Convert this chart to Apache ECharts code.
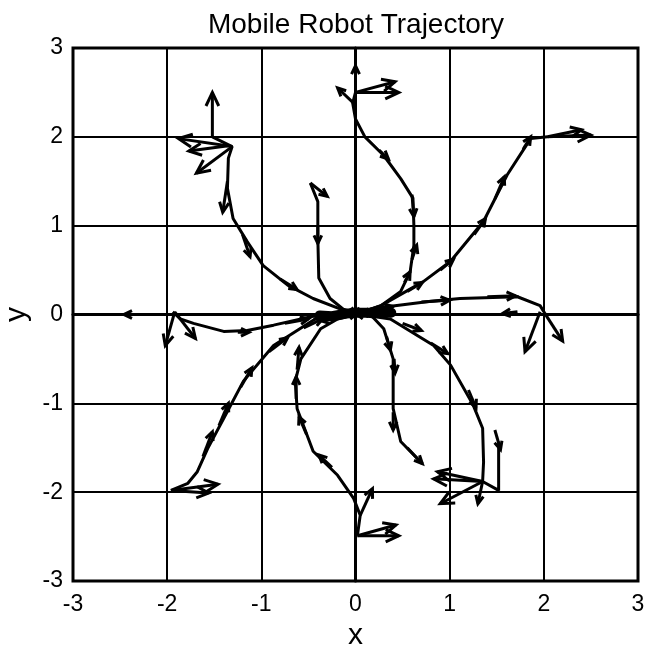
<!DOCTYPE html>
<html>
<head>
<meta charset="utf-8">
<script src="https://cdn.jsdelivr.net/npm/echarts@6/dist/echarts.min.js"></script>
<style>
  html, body { margin: 0; padding: 0; background: #fff; }
  #chart { width: 648px; height: 647px; }
</style>
</head>
<body>
<div id="chart"></div>
<script>
// axis ticks
const xTicks = [-3, -2, -1, 0, 1, 2, 3]
const yTicks = [-3, -2, -1, 0, 1, 2, 3]

// trajectories (x, y), one per start pose
const trajTop = [[0.0, 2.5], [-0.03, 2.38], [0.0, 2.2], [0.1, 2.0], [0.3, 1.79], [0.48, 1.53], [0.61, 1.31], [0.62, 1.0], [0.62, 0.78], [0.58, 0.48], [0.48, 0.26], [0.27, 0.1], [0.05, 0.02]]
const trajUpperLeft = [[-1.52, 2.0], [-1.31, 1.89], [-1.35, 1.76], [-1.36, 1.42], [-1.3, 1.08], [-1.15, 0.82], [-0.98, 0.55], [-0.72, 0.33], [-0.45, 0.18], [-0.13, 0.05], [0, 0.02]]
const trajInnerLeft = [[-0.48, 1.48], [-0.4, 1.27], [-0.4, 0.86], [-0.39, 0.41], [-0.27, 0.18], [-0.13, 0.06], [0, 0.02]]
const trajUpperRight = [[0.05, 0.02], [0.27, 0.1], [0.72, 0.37], [1.01, 0.6], [1.36, 1.05], [1.61, 1.57], [1.86, 1.98], [2.04, 2.0]]
const trajRight = [[0.05, 0.0], [0.27, 0.08], [0.8, 0.15], [1.11, 0.18], [1.72, 0.2], [1.96, 0.1], [2.0, 0.03]]
const trajLowerRight = [[0.05, 0.0], [0.37, -0.05], [0.83, -0.35], [1.01, -0.57], [1.25, -1.02], [1.35, -1.28], [1.36, -1.66], [1.35, -1.88], [1.52, -1.98], [1.52, -1.43]]
const trajInnerRight = [[0.71, -1.68], [0.48, -1.43], [0.4, -1.06], [0.4, -0.5], [0.3, -0.16], [0.13, 0.03]]
const trajBottom = [[0.02, -2.49], [0.05, -2.26], [-0.02, -2.07], [-0.19, -1.81], [-0.45, -1.54], [-0.62, -1.06], [-0.64, -0.75], [-0.58, -0.5], [-0.37, -0.16], [-0.19, -0.05], [0, 0]]
const trajLowerLeft = [[-1.96, -1.98], [-1.78, -1.9], [-1.68, -1.77], [-1.57, -1.51], [-1.4, -1.17], [-1.19, -0.75], [-0.87, -0.35], [-0.37, -0.01], [0, 0]]
const trajLeft = [[-1.94, 0.03], [-1.86, -0.05], [-1.72, -0.1], [-1.4, -0.19], [-1.15, -0.18], [-0.87, -0.12], [-0.45, -0.02], [0, 0]]

const trajectories = [trajTop, trajUpperLeft, trajInnerLeft, trajUpperRight, trajRight,
  trajLowerRight, trajInnerRight, trajBottom, trajLowerLeft, trajLeft]

// dense overlap of the final approach near the goal
const goalCluster = [[-0.38, -0.01], [-0.25, -0.02], [-0.1, 0.01], [0.0, 0.02], [0.15, 0.02], [0.28, 0.03], [0.38, 0.02]]

// heading arrows: x, y, dx, dy
const arrows = [
  // top start
  [0, 2.5, 0, 0.3], [0, 2.5, 0.46, 0], [0, 2.5, 0.42, 0.12], [-0.02, 2.38, -0.17, 0.17],
  [0.25, 1.85, 0.1, -0.1], [0.6, 1.35, 0.02, -0.25], [0.6, 0.62, 0.05, 0.16], [0.52, 0.36, 0.06, 0.12],
  // upper-left start
  [-1.52, 2.0, 0, 0.5], [-1.31, 1.89, -0.57, 0.09], [-1.35, 1.9, -0.42, -0.06], [-1.31, 1.89, -0.38, -0.3],
  [-1.36, 1.5, -0.05, -0.35], [-1.2, 0.9, 0.08, -0.25], [-0.8, 0.4, 0.18, -0.12],
  // inner-left start
  [-0.48, 1.48, 0.18, -0.15], [-0.4, 1.0, 0, -0.2],
  // upper-right start
  [2.04, 2.0, 0.46, 0.02], [2.04, 2.0, 0.36, 0.08], [1.78, 1.86, 0.08, 0.14],
  [1.48, 1.3, 0.1, 0.25], [1.26, 0.9, 0.12, 0.18], [0.9, 0.5, 0.14, 0.12], [0.55, 0.26, 0.16, 0.1],
  // right start
  [1.96, 0.03, -0.16, -0.45], [2.0, 0.03, 0.2, -0.33], [1.72, 0.03, -0.16, -0.02],
  [1.4, 0.2, 0.3, 0.01], [0.7, 0.14, 0.3, 0.02],
  // lower-right start
  [1.35, -1.88, -0.52, 0.03], [1.35, -1.88, -0.48, 0.11], [1.35, -1.88, -0.05, -0.25], [1.35, -1.88, -0.45, -0.25],
  [1.48, -1.3, 0.06, -0.22], [1.2, -0.85, 0.08, -0.2], [0.8, -0.32, 0.18, -0.12], [0.5, -0.1, 0.2, -0.08],
  // inner-right start
  [0.55, -1.5, 0.16, -0.18], [0.4, -1.1, 0, -0.2], [0.41, -0.5, 0.01, -0.16], [0.33, -0.25, 0.04, -0.15],
  // bottom start
  [0.02, -2.49, 0.44, 0], [0.02, -2.49, 0.41, 0.12], [0.05, -2.26, 0.13, 0.3],
  [-0.25, -1.72, -0.14, 0.14], [-0.52, -1.35, -0.08, 0.2], [-0.63, -0.95, 0.0, 0.25], [-0.62, -0.62, 0.02, 0.25],
  // lower-left start
  [-1.96, -1.98, 0.5, 0.07], [-1.96, -1.98, 0.4, -0.03],
  [-1.62, -1.6, 0.1, 0.28], [-1.45, -1.25, 0.1, 0.25], [-1.22, -0.82, 0.12, 0.22], [-0.92, -0.42, 0.2, 0.16], [-0.55, -0.15, 0.2, 0.1],
  // left start
  [-1.92, 0.03, -0.1, -0.38], [-1.92, 0.03, 0.22, -0.3], [-2.22, 0, -0.24, 0],
  [-1.25, -0.2, 0.12, 0], [-0.75, -0.1, 0.25, 0.05],
  // around the goal
  [-0.3, 0.0, 0.25, 0.02], [0.3, 0.02, -0.25, 0.0], [-0.2, -0.04, 0.22, 0.05], [0.2, -0.03, -0.2, 0.04],
  [-0.1, 0.04, 0.2, -0.02], [0.1, 0.05, -0.2, -0.03], [0.25, 0.06, 0.15, 0.03], [-0.25, -0.05, -0.12, -0.02]
]

const chart = echarts.init(document.getElementById('chart'))

const font = '"Liberation Sans", Arial, Helvetica, sans-serif'

const renderArrow = (params, api) => {
  const x = api.value(0), y = api.value(1)
  const p0 = api.coord([x, y])
  const p1 = api.coord([x + api.value(2), y + api.value(3)])
  const vx = p1[0] - p0[0], vy = p1[1] - p0[1]
  const len = Math.hypot(vx, vy) || 1
  const ux = -vx / len, uy = -vy / len
  const h = Math.min(15, Math.max(9, len * 0.35))
  const a = 0.44
  const c = Math.cos(a), s = Math.sin(a)
  const l = [p1[0] + h * (ux * c - uy * s), p1[1] + h * (ux * s + uy * c)]
  const r = [p1[0] + h * (ux * c + uy * s), p1[1] + h * (-ux * s + uy * c)]
  const st = { stroke: '#000', lineWidth: 3, fill: 'none' }
  return {
    type: 'group',
    children: [
      { type: 'polyline', shape: { points: [p0, p1] }, style: st },
      { type: 'polyline', shape: { points: [l, p1, r] }, style: st }
    ]
  }
}

const series = trajectories.map(t => ({
  type: 'line',
  data: t,
  showSymbol: false,
  symbol: 'none',
  lineStyle: { color: '#000', width: 3 },
  z: 3
}))

series.push({
  type: 'line',
  data: goalCluster,
  showSymbol: false,
  symbol: 'none',
  lineStyle: { color: '#000', width: 10, cap: 'round' },
  z: 3
})

series.push({
  type: 'custom',
  renderItem: renderArrow,
  data: arrows,
  encode: { x: 0, y: 1 },
  z: 4
})

chart.setOption({
  animation: false,
  title: {
    text: 'Mobile Robot Trajectory',
    left: 351,
    textAlign: 'center',
    top: 6,
    textStyle: { fontFamily: font, fontSize: 28, fontWeight: 'normal', color: '#000' }
  },
  grid: {
    left: 73, right: 10, top: 48, bottom: 66,
    outerBoundsMode: 'none',
    show: true, borderColor: '#000', borderWidth: 3
  },
  xAxis: {
    type: 'value',
    min: xTicks[0], max: xTicks[xTicks.length - 1], interval: 1,
    name: 'x', nameLocation: 'middle', nameGap: 37,
    nameTextStyle: { fontFamily: font, fontSize: 30, color: '#000' },
    axisLine: { lineStyle: { color: '#000', width: 3 } },
    axisTick: { show: false },
    axisLabel: { fontFamily: font, fontSize: 23, color: '#000', margin: 12 },
    splitLine: { lineStyle: { color: '#000', width: 2 } }
  },
  yAxis: {
    type: 'value',
    min: yTicks[0], max: yTicks[yTicks.length - 1], interval: 1,
    name: 'y', nameLocation: 'middle', nameGap: 38, nameRotate: 90,
    nameTextStyle: { fontFamily: font, fontSize: 30, color: '#000' },
    axisLine: { lineStyle: { color: '#000', width: 3 } },
    axisTick: { show: false },
    axisLabel: { fontFamily: font, fontSize: 23, color: '#000', margin: 10 },
    splitLine: { lineStyle: { color: '#000', width: 2 } }
  },
  series: series
})
</script>
</body>
</html>
